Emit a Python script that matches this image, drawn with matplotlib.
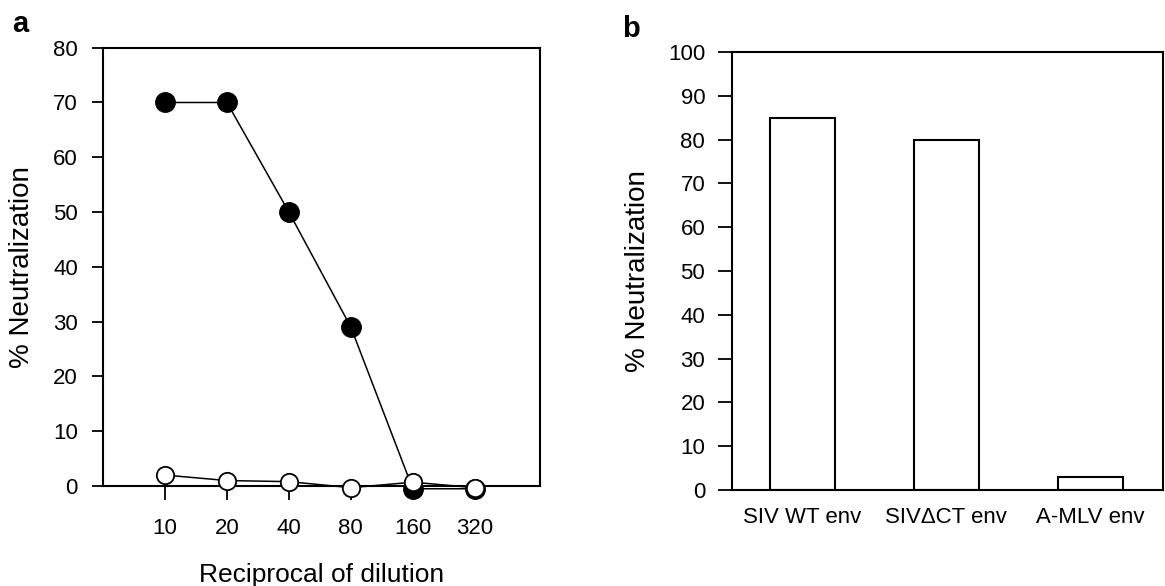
import matplotlib
matplotlib.use("Agg")
import matplotlib.pyplot as plt

plt.rcParams['font.family'] = ['Liberation Sans', 'DejaVu Sans']

# Panel a data
dilutions = ["10", "20", "40", "80", "160", "320"]
filled_vals = [70, 70, 50, 29, -0.5, -0.5]
open_vals = [2, 1, 0.8, -0.3, 0.7, -0.3]
yticks_a = [0, 10, 20, 30, 40, 50, 60, 70, 80]

# Panel b data
groups = ["SIV WT env", "SIV\u0394CT env", "A-MLV env"]
neutral = [85, 80, 3]
yticks_b = [0, 10, 20, 30, 40, 50, 60, 70, 80, 90, 100]

TICK_FS = 16
LABEL_FS = 20

fig = plt.figure(figsize=(11.65, 5.86), dpi=100)

# ---- Panel a ----
axa = fig.add_axes([0.0884, 0.1706, 0.375, 0.748])
xs = list(range(len(dilutions)))
axa.plot(xs, filled_vals, color='black', lw=1.1, marker='o', markersize=14,
         markerfacecolor='black', markeredgecolor='black', zorder=3, clip_on=False)
axa.plot(xs, open_vals, color='black', lw=1.1, marker='o', markersize=12.5,
         markerfacecolor='white', markeredgecolor='black', markeredgewidth=1.3,
         zorder=4, clip_on=False)
axa.set_xlim(-1, 6.05)
axa.set_ylim(0, 80)
axa.set_yticks(yticks_a)
axa.set_xticks(xs)
axa.set_xticklabels(dilutions)
axa.tick_params(axis='y', direction='out', length=8, width=1.3, labelsize=TICK_FS, pad=10)
axa.tick_params(axis='x', direction='out', length=10, width=1.3, labelsize=TICK_FS, pad=13)
for sp in axa.spines.values():
    sp.set_linewidth(1.5)
axa.set_ylabel("% Neutralization", fontsize=LABEL_FS, labelpad=13)
axa.set_xlabel("Reciprocal of dilution", fontsize=19, labelpad=17)
fig.text(0.010, 1 - 32 / 586, "a", fontsize=21, fontweight='bold', va='baseline', ha='left')

# ---- Panel b ----
axb = fig.add_axes([0.628, 0.1638, 0.370, 0.7475])
xb = list(range(len(groups)))
axb.bar(xb, neutral, width=0.45, color='white', edgecolor='black', linewidth=1.5)
axb.set_xlim(-0.49, 2.5)
axb.set_ylim(0, 100)
axb.set_yticks(yticks_b)
axb.set_xticks(xb)
axb.set_xticklabels(groups)
axb.tick_params(axis='y', direction='out', length=10, width=1.3, labelsize=TICK_FS, pad=9)
axb.tick_params(axis='x', length=0, labelsize=TICK_FS, pad=12)
for sp in axb.spines.values():
    sp.set_linewidth(1.5)
axb.set_ylabel("% Neutralization", fontsize=LABEL_FS, labelpad=12)
fig.text(0.534, 1 - 37 / 586, "b", fontsize=21, fontweight='bold', va='baseline', ha='left')

fig.savefig("out.png", dpi=100)
